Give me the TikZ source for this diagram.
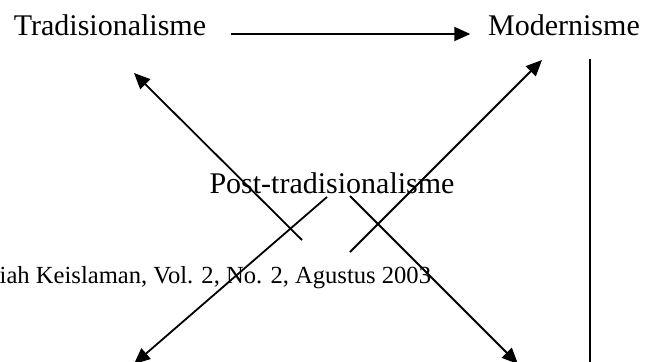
\documentclass[tikz,border=0pt]{standalone}
\usepackage{fontspec}
\setmainfont{Liberation Serif}
\usepackage{tikz}
\usetikzlibrary{arrows.meta, calc}

\tikzset{
  label/.style={inner sep=0pt, anchor=base, font=\fontsize{15}{18}\selectfont},
  header/.style={inner sep=0pt, anchor=base east, font=\fontsize{12.3}{14}\selectfont},
}

\begin{document}
\begin{tikzpicture}[line cap=butt,line join=miter,>={Triangle[length=8pt,width=7pt]},x=0.5pt,y=0.5pt,line width=0.9pt]
\useasboundingbox (0, 0) rectangle (645, 361);
\clip (0, 0) rectangle (645, 361);

\node[label] (trad) at (110, 326) {Tradisionalisme};
\node[label] (mod) at (564, 326) {Modernisme};
\node[label] (post) at (332, 168) {Post-tradisionalisme};
\node[header] (jurnal) at (432, 78) {iah Keislaman, Vol. 2, No. 2, Agustus 2003};

\coordinate (UL1) at (302, 121);
\coordinate (UL2) at (134, 288);
\coordinate (UR1) at (350, 109);
\coordinate (UR2) at (542, 301);

\coordinate (DL1) at (327, 164);
\coordinate (DL2) at (134, -3);
\coordinate (DR1) at (350, 165);
\coordinate (DR2) at (518, -3);

\coordinate (V1) at (590, 302);
\coordinate (V2) at (590, -2);

\draw [->] ([xshift=12pt, yshift=0.5pt]trad.base east) -- ([xshift=-8.5pt, yshift=0.5pt]mod.base west);

\draw [->] (UL1) -- (UL2);
\draw [->] (UR1) -- (UR2);
\draw [->] (DL1) -- (DL2);
\draw [->] (DR1) -- (DR2);

\draw [-] (V1) -- (V2);

\end{tikzpicture}
\end{document}
